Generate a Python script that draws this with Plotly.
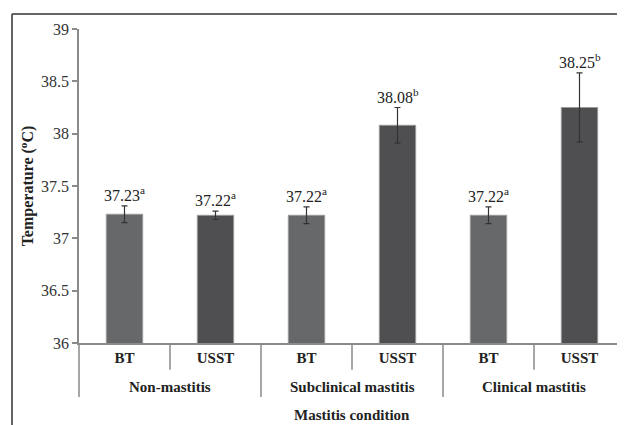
import plotly.graph_objects as go

groups = ["Non-mastitis", "Subclinical mastitis", "Clinical mastitis"]
treatments = ["BT", "USST", "BT", "USST", "BT", "USST"]
means = [37.23, 37.22, 37.22, 38.08, 37.22, 38.25]
errors = [0.08, 0.04, 0.08, 0.17, 0.08, 0.33]
letters = ["a", "a", "a", "b", "a", "b"]
bar_colors = ["#67686a", "#4f4f51", "#67686a", "#4f4f51", "#67686a", "#4f4f51"]
y_ticks = [36, 36.5, 37, 37.5, 38, 38.5, 39]

FONT = "Liberation Serif"
AX = "#8a8a8a"

xs = list(range(len(means)))
fig = go.Figure()
fig.add_trace(go.Bar(
    x=xs, y=means, width=0.4,
    marker=dict(color=bar_colors, line=dict(color="#9a9a9a", width=1)),
    error_y=dict(type="data", array=errors, visible=True, color="#333333",
                 thickness=1.2, width=3),
    showlegend=False, hoverinfo="skip",
))

annotations = []
for i, (m, e, l) in enumerate(zip(means, errors, letters)):
    annotations.append(dict(
        x=i, y=m + e, xref="x", yref="y", yanchor="bottom", yshift=0,
        text=f"{m:.2f}<sup>{l}</sup>", showarrow=False,
        font=dict(family=FONT, size=16, color="#222222"),
    ))

# group labels
for g, name in enumerate(groups):
    annotations.append(dict(
        x=2 * g + 0.5, y=-0.14, xref="x", yref="paper", yanchor="middle",
        text=f"<b>{name}</b>", showarrow=False,
        font=dict(family=FONT, size=15, color="#222222"),
    ))

annotations.append(dict(
    x=0.5, y=-0.23, xref="paper", yref="paper", yanchor="middle",
    text="<b>Mastitis condition</b>", showarrow=False,
    font=dict(family=FONT, size=15, color="#222222"),
))

shapes = []
# short dividers within groups
for g in range(3):
    xd = 2 * g + 0.5
    shapes.append(dict(type="line", xref="x", yref="paper", x0=xd, x1=xd,
                       y0=0, y1=-0.085, line=dict(color=AX, width=1.5)))
# long dividers between groups
for xd in [1.5, 3.5]:
    shapes.append(dict(type="line", xref="x", yref="paper", x0=xd, x1=xd,
                       y0=0, y1=-0.172, line=dict(color=AX, width=1.5)))
shapes.append(dict(type="line", xref="paper", yref="paper", x0=0, x1=0,
                   y0=0, y1=-0.172, line=dict(color=AX, width=1.5)))
# outer frame (left and top)
shapes.append(dict(type="line", xref="paper", yref="paper", x0=-0.1227, x1=-0.1227,
                   y0=1.048, y1=-0.3, line=dict(color="#333333", width=1.5)))
shapes.append(dict(type="line", xref="paper", yref="paper", x0=-0.1227, x1=1.02,
                   y0=1.048, y1=1.048, line=dict(color="#333333", width=1.5)))

# page body has an 8px margin, so the figure is sized/offset to compensate
fig.update_layout(
    width=617, height=417,
    margin=dict(l=71, r=0, t=21, b=82),
    paper_bgcolor="white", plot_bgcolor="white",
    font=dict(family=FONT, color="#222222"),
    annotations=annotations, shapes=shapes,
    xaxis=dict(
        range=[-0.5, 5.5], tickmode="array", tickvals=xs,
        ticktext=[f"<b>{t}</b>" for t in treatments],
        tickfont=dict(family=FONT, size=15, color="#222222"),
        showline=True, linecolor=AX, linewidth=1.5, ticks="",
        showgrid=False, zeroline=False,
    ),
    yaxis=dict(
        range=[36, 39], tickmode="array", tickvals=y_ticks,
        ticktext=[f"{v:g}" for v in y_ticks],
        tickfont=dict(family=FONT, size=16, color="#333333"),
        showline=True, linecolor=AX, linewidth=1.5,
        ticks="outside", ticklen=5, tickcolor=AX, tickwidth=1.5,
        showgrid=False, zeroline=False,
        title=dict(text="<b>Temperature (<sup>o</sup>C)</b>",
                   font=dict(family=FONT, size=16, color="#222222"), standoff=3),
    ),
)

fig.write_html("out.html")
